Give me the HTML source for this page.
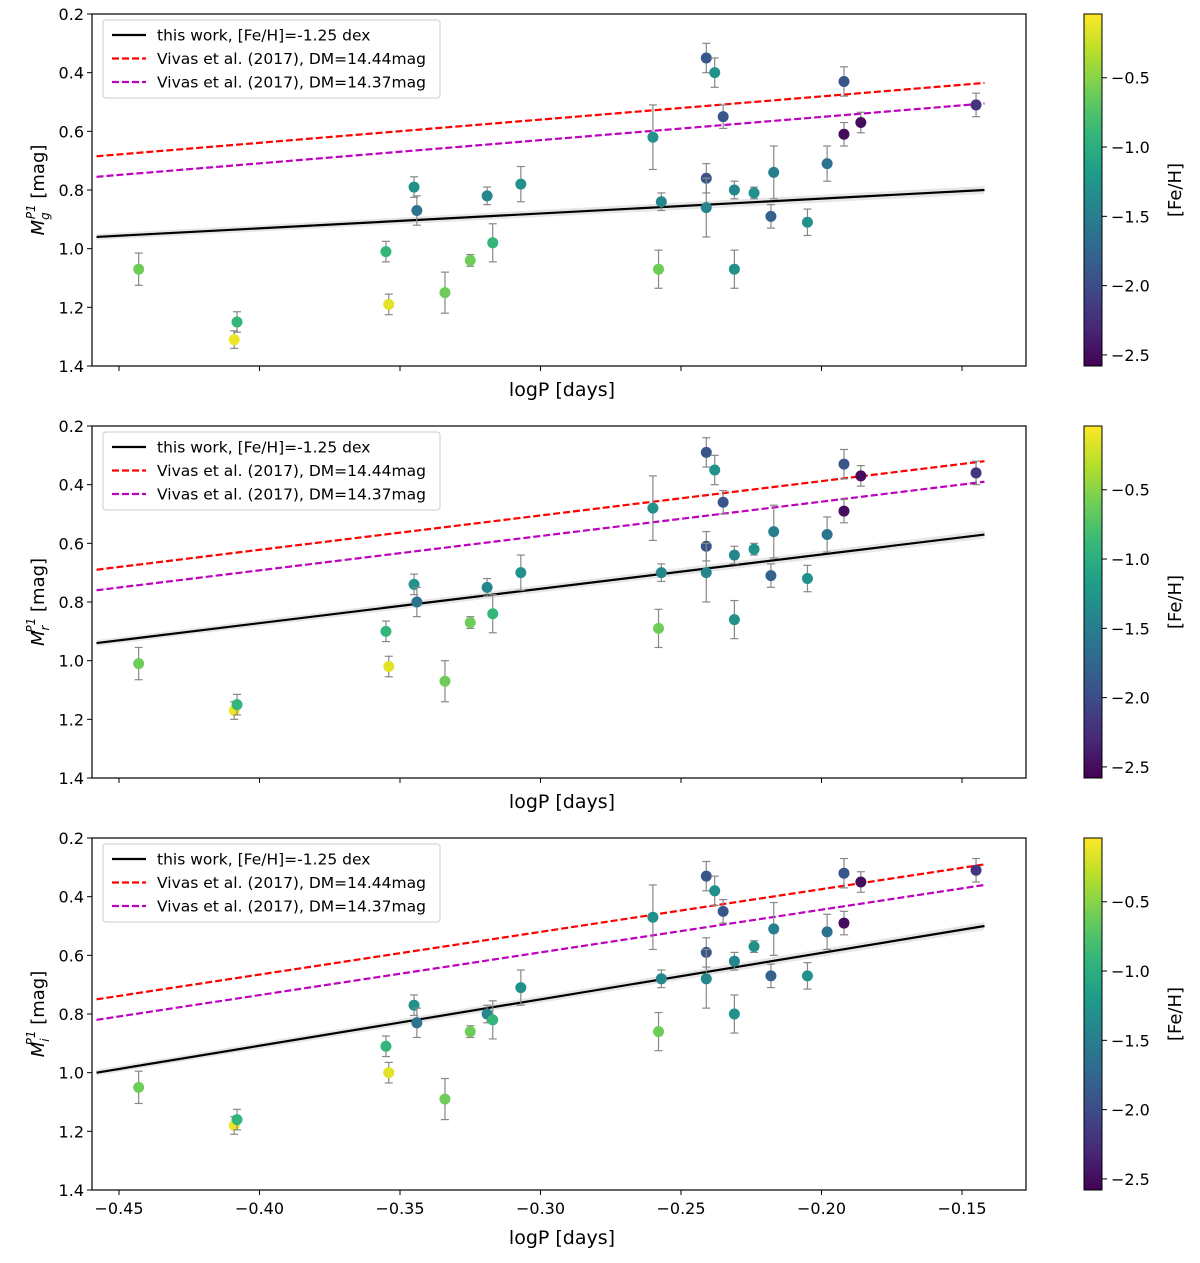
<!DOCTYPE html>
<html><head><meta charset="utf-8"><style>
body{margin:0;background:#fff;font-family:"Liberation Sans","DejaVu Sans",sans-serif}
svg text{font-family:"DejaVu Sans","Liberation Sans",sans-serif}
</style></head><body>
<svg id="chart" width="1200" height="1258" xmlns="http://www.w3.org/2000/svg"></svg>
<script>
const logP=[-0.443,-0.409,-0.408,-0.355,-0.354,-0.345,-0.344,-0.334,-0.325,-0.319,-0.317,-0.307,-0.260,-0.258,-0.257,-0.241,-0.241,-0.241,-0.238,-0.235,-0.231,-0.231,-0.224,-0.218,-0.217,-0.205,-0.198,-0.192,-0.192,-0.186,-0.145];
const feh=[-0.6,-0.1,-0.9,-0.9,-0.15,-1.3,-1.6,-0.6,-0.6,-1.4,-0.9,-1.3,-1.3,-0.6,-1.4,-1.9,-1.9,-1.4,-1.3,-1.9,-1.4,-1.3,-1.3,-1.8,-1.5,-1.3,-1.6,-1.9,-2.5,-2.5,-2.2];
const magG=[1.07,1.31,1.25,1.01,1.19,0.79,0.87,1.15,1.04,0.82,0.98,0.78,0.62,1.07,0.84,0.35,0.76,0.86,0.40,0.55,0.80,1.07,0.81,0.89,0.74,0.91,0.71,0.43,0.61,0.57,0.51];
const magR=[1.01,1.17,1.15,0.90,1.02,0.74,0.80,1.07,0.87,0.75,0.84,0.70,0.48,0.89,0.70,0.29,0.61,0.70,0.35,0.46,0.64,0.86,0.62,0.71,0.56,0.72,0.57,0.33,0.49,0.37,0.36];
const magI=[1.05,1.18,1.16,0.91,1.00,0.77,0.83,1.09,0.86,0.80,0.82,0.71,0.47,0.86,0.68,0.33,0.59,0.68,0.38,0.45,0.62,0.80,0.57,0.67,0.51,0.67,0.52,0.32,0.49,0.35,0.31];
const errs=[0.055,0.03,0.035,0.035,0.035,0.035,0.05,0.07,0.02,0.03,0.065,0.06,0.11,0.065,0.03,0.05,0.05,0.10,0.05,0.04,0.03,0.065,0.02,0.04,0.09,0.045,0.06,0.05,0.04,0.035,0.04];
const lineX=[-0.458,-0.142];
const blackY=[[0.96,0.80],[0.94,0.57],[1.00,0.50]];
const redY=[[0.685,0.435],[0.69,0.32],[0.75,0.29]];
const magY=[[0.755,0.505],[0.76,0.39],[0.82,0.36]];
const xTicks=[-0.45,-0.40,-0.35,-0.30,-0.25,-0.20,-0.15];
const yTicks=[0.2,0.4,0.6,0.8,1.0,1.2,1.4];
const cbTicks=[-0.5,-1.0,-1.5,-2.0,-2.5];
const bands=['g','r','i'];
const mags=[magG,magR,magI];
const NS='http://www.w3.org/2000/svg';
const svg=document.getElementById('chart');
function mk(t,a,p){const e=document.createElementNS(NS,t);for(const k in a)e.setAttribute(k,a[k]);(p||svg).appendChild(e);return e;}
const vir=[[68,1,84],[72,40,120],[62,74,137],[49,104,142],[38,130,142],[31,158,137],[53,183,121],[109,205,89],[180,222,44],[253,231,37]];
function cmap(v){let t=(v-(-2.58))/(2.54);t=Math.max(0,Math.min(1,t))*(vir.length-1);const i=Math.min(Math.floor(t),vir.length-2),f=t-i;const c=vir[i].map((a,k)=>Math.round(a+(vir[i+1][k]-a)*f));return `rgb(${c})`;}
const L=92,R=1026,X0=119,XS=140.5/0.05;
function xs(v){return X0+(v+0.45)*XS;}
const tops=[14,426,838],H=352;
const fmt=v=>(v<0?'\u2212':'')+Math.abs(v).toFixed(2);
for(let p=0;p<3;p++){
 const T=tops[p];const ys=v=>T+(v-0.2)/1.2*H;
 const g=mk('g',{});
 
 
 // grey band
 mk('polygon',{points:`${xs(lineX[0])},${ys(blackY[p][0])-3} ${xs(lineX[1])},${ys(blackY[p][1])-4} ${xs(lineX[1])},${ys(blackY[p][1])+4} ${xs(lineX[0])},${ys(blackY[p][0])+3}`,fill:'#e6e6e6'},g);
 const lines=[[blackY[p],'#000','',  'fit-line-this-work'],[redY[p],'#ff0000','7,3','fit-line-vivas-1444'],[magY[p],'#bf00bf','7,3','fit-line-vivas-1437']];
 for(const [yy,c,d,n] of lines){const l=mk('line',{x1:xs(lineX[0]),y1:ys(yy[0]),x2:xs(lineX[1]),y2:ys(yy[1]),stroke:c,'stroke-width':2.2,'stroke-dasharray':d},g);}
 const m=mags[p];
 for(let i=0;i<logP.length;i++){
  const x=xs(logP[i]),y=ys(m[i]),e=errs[i]/1.2*H;
  mk('line',{x1:x,y1:y-e,x2:x,y2:y+e,stroke:'#888','stroke-width':1.2},g);
  mk('line',{x1:x-4,y1:y-e,x2:x+4,y2:y-e,stroke:'#888','stroke-width':1.2},g);
  mk('line',{x1:x-4,y1:y+e,x2:x+4,y2:y+e,stroke:'#888','stroke-width':1.2},g);
  const c=mk('circle',{cx:x,cy:y,r:5.5,fill:cmap(feh[i])},g);
  
  
 }
 mk('rect',{x:L,y:T,width:R-L,height:H,fill:'none',stroke:'#000','stroke-width':1.2},g);
 for(const v of yTicks){const y=ys(v);mk('line',{x1:L-5,y1:y,x2:L,y2:y,stroke:'#000'},g);const t=mk('text',{x:L-8,y:y+6,'text-anchor':'end','font-size':16},g);t.textContent=v.toFixed(1);}
 for(const v of xTicks){const x=xs(v);mk('line',{x1:x,y1:T+H,x2:x,y2:T+H+5,stroke:'#000'},g);if(p==2){const t=mk('text',{x:x,y:T+H+24,'text-anchor':'middle','font-size':16},g);t.textContent=fmt(v);}}
 const xl=mk('text',{x:562,y:p==2?T+H+54:T+H+30,'text-anchor':'middle','font-size':19},g);xl.textContent='logP [days]';
 
 const yl=mk('text',{transform:`translate(44,${T+H/2}) rotate(-90)`,'text-anchor':'middle','font-size':18},g);
 yl.innerHTML=`<tspan font-style="italic">M</tspan><tspan font-size="12" dy="5" font-style="italic">${bands[p]}</tspan><tspan font-size="12" dy="-14" dx="-7" font-style="italic">P1</tspan><tspan dy="9"> [mag]</tspan>`;
 
 // legend
 const lg=mk('g',{},g);
 mk('rect',{x:103,y:T+6,width:337,height:78,rx:3,fill:'#fff','fill-opacity':0.8,stroke:'#ccc'},lg);
 const labs=['this work, [Fe/H]=-1.25 dex','Vivas et al. (2017), DM=14.44mag','Vivas et al. (2017), DM=14.37mag'];
 lines.forEach((l,k)=>{const y=T+21+k*23.5;mk('line',{x1:112,y1:y,x2:146,y2:y,stroke:l[1],'stroke-width':2.2,'stroke-dasharray':l[2]},lg);const t=mk('text',{x:157,y:y+5.5,'font-size':15.5},lg);t.textContent=labs[k];});
 // colorbar
 const cb=mk('g',{},g);
 for(let k=0;k<H;k++){const v=-0.04-(k/H)*2.54;mk('rect',{x:1084,y:T+k,width:18,height:1.2,fill:cmap(v)},cb);}
 mk('rect',{x:1084,y:T,width:18,height:H,fill:'none',stroke:'#000'},cb);
 for(const v of cbTicks){const y=T+(-0.04-v)/2.54*H;mk('line',{x1:1102,y1:y,x2:1107,y2:y,stroke:'#000'},cb);const t=mk('text',{x:1111,y:y+6,'font-size':16},cb);t.textContent=(v<0?'\u2212':'')+Math.abs(v).toFixed(1);}
 const cl=mk('text',{transform:`translate(1181,${T+H/2}) rotate(-90)`,'text-anchor':'middle','font-size':18},cb);cl.textContent='[Fe/H]';
}
</script>
</body></html>
